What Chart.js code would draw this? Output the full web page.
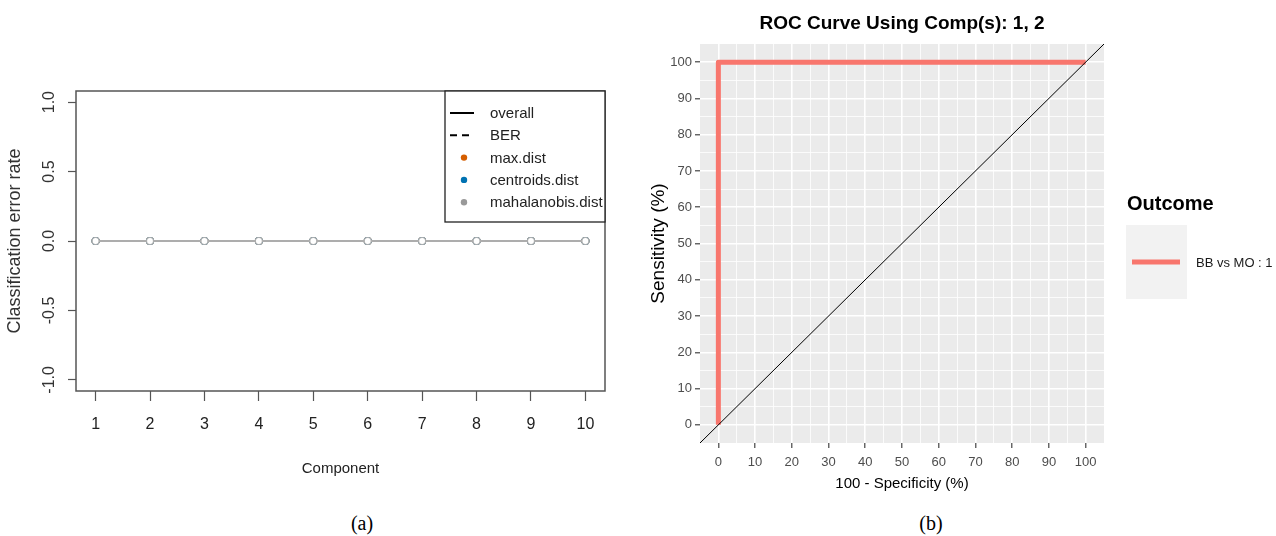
<!DOCTYPE html>
<html><head><meta charset="utf-8">
<script src="https://cdn.jsdelivr.net/npm/chart.js@4.4.1/dist/chart.umd.min.js"></script>
<style>
html,body{margin:0;padding:0;background:#fff;width:1276px;height:536px;overflow:hidden;position:relative;font-family:"Liberation Sans",Arial,sans-serif}
#c1{position:absolute;left:0;top:0}
#c2{position:absolute;left:640px;top:0}
.cap{position:absolute;top:512px;line-height:22px;font-family:"Liberation Serif","Times New Roman",serif;font-size:20px;color:#000;transform:translateX(-50%)}
</style></head><body>
<canvas id="c1" width="640" height="500"></canvas>
<canvas id="c2" width="636" height="500"></canvas>
<div class="cap" style="left:362px">(a)</div>
<div class="cap" style="left:931px">(b)</div>
<script>
// ---------- Panel (a): classification error rate ----------
const components = [1, 2, 3, 4, 5, 6, 7, 8, 9, 10];
const overallMaxDist = [0, 0, 0, 0, 0, 0, 0, 0, 0, 0];
const overallCentroidsDist = [0, 0, 0, 0, 0, 0, 0, 0, 0, 0];
const overallMahalanobisDist = [0, 0, 0, 0, 0, 0, 0, 0, 0, 0];
const berMaxDist = [0, 0, 0, 0, 0, 0, 0, 0, 0, 0];
const berCentroidsDist = [0, 0, 0, 0, 0, 0, 0, 0, 0, 0];
const berMahalanobisDist = [0, 0, 0, 0, 0, 0, 0, 0, 0, 0];
const errorTicks = [-1, -0.5, 0, 0.5, 1];
const errorRange = [-1.08, 1.08];
const componentRange = [0.64, 10.36];
const legendLines = ['overall', 'BER'];
const legendDists = ['max.dist', 'centroids.dist', 'mahalanobis.dist'];

// ---------- Panel (b): ROC curve ----------
const rocFpr = [0, 0, 100];
const rocSensitivity = [0, 100, 100];
const rocTicks = [0, 10, 20, 30, 40, 50, 60, 70, 80, 90, 100];
const rocMinorTicks = [5, 15, 25, 35, 45, 55, 65, 75, 85, 95];
const rocRange = [-5, 105];
const rocTitle = 'ROC Curve Using Comp(s): 1, 2';
const outcomeTitle = 'Outcome';
const outcomeLabel = 'BB vs MO : 1';

const FONT = '"Liberation Sans", Arial, sans-serif';
Chart.defaults.font.family = FONT;
Chart.defaults.animation = false;

const distColors = ['#D55E00', '#0072B2', '#999999'];
const lineGray = '#ADADAD';

function series(label, vals, color, dashed, order) {
  return {
    label,
    data: components.map((c, i) => ({ x: c, y: vals[i] })),
    borderColor: color,
    borderWidth: 2.2,
    borderDash: dashed ? [6, 4] : [],
    pointRadius: dashed ? 0 : 3.5,
    pointBorderColor: color,
    pointBackgroundColor: '#ffffff',
    pointBorderWidth: 1.2,
    tension: 0,
    order
  };
}

const panelAPlugin = {
  id: 'panelA',
  afterDraw(chart) {
    const ctx = chart.ctx;
    const a = chart.chartArea;
    ctx.save();
    // plot box
    ctx.strokeStyle = '#555';
    ctx.lineWidth = 1.5;
    ctx.strokeRect(a.left, a.top, a.right - a.left, a.bottom - a.top);
    // rotated y tick labels
    const ys = chart.scales.y;
    ctx.fillStyle = '#333';
    ctx.font = '16px ' + FONT;
    ctx.textAlign = 'center';
    ctx.textBaseline = 'middle';
    errorTicks.forEach(v => {
      const py = ys.getPixelForValue(v);
      ctx.save();
      ctx.translate(50, py);
      ctx.rotate(-Math.PI / 2);
      ctx.fillText(v.toFixed(1), 0, 0);
      ctx.restore();
    });
    // legend
    const lx = 445, ly = a.top, lw = a.right - lx, lh = 131;
    ctx.fillStyle = '#fff';
    ctx.fillRect(lx, ly, lw, lh);
    ctx.strokeStyle = '#222';
    ctx.lineWidth = 1.3;
    ctx.strokeRect(lx, ly, lw, lh);
    const rowY = i => ly + 22 + i * 22.3;
    ctx.font = '15px ' + FONT;
    ctx.textAlign = 'left';
    ctx.textBaseline = 'middle';
    legendLines.forEach((t, i) => {
      ctx.beginPath();
      ctx.setLineDash(i === 1 ? [7, 5] : []);
      ctx.strokeStyle = '#000';
      ctx.lineWidth = 2;
      ctx.moveTo(lx + 5, rowY(i));
      ctx.lineTo(lx + 29, rowY(i));
      ctx.stroke();
      ctx.setLineDash([]);
      ctx.fillStyle = '#222';
      ctx.fillText(t, lx + 45, rowY(i) + 1);
    });
    legendDists.forEach((t, j) => {
      const i = j + 2;
      ctx.beginPath();
      ctx.fillStyle = distColors[j];
      ctx.arc(lx + 19, rowY(i), 3.2, 0, Math.PI * 2);
      ctx.fill();
      ctx.fillStyle = '#222';
      ctx.fillText(t, lx + 45, rowY(i) + 1);
    });
    ctx.restore();
  }
};

new Chart(document.getElementById('c1'), {
  type: 'line',
  data: {
    datasets: [
      series('mahalanobis.dist overall', overallMahalanobisDist, lineGray, false, 0),
      series('mahalanobis.dist BER', berMahalanobisDist, lineGray, true, 1),
      series('centroids.dist overall', overallCentroidsDist, distColors[1], false, 2),
      series('centroids.dist BER', berCentroidsDist, distColors[1], true, 3),
      series('max.dist overall', overallMaxDist, distColors[0], false, 4),
      series('max.dist BER', berMaxDist, distColors[0], true, 5)
    ]
  },
  options: {
    responsive: false,
    devicePixelRatio: 1,
    layout: { padding: { left: 0, top: 91, right: 35, bottom: 0 } },
    plugins: { legend: { display: false }, tooltip: { enabled: false } },
    scales: {
      x: {
        type: 'linear',
        min: componentRange[0], max: componentRange[1],
        afterBuildTicks: s => { s.ticks = components.map(v => ({ value: v })); },
        afterFit: s => { s.height = 109; },
        ticks: { font: { size: 16 }, color: '#222', padding: 14, autoSkip: false, maxRotation: 0, callback: v => String(v) },
        grid: { display: true, drawOnChartArea: false, drawTicks: true, tickLength: 10, tickColor: '#555', tickWidth: 1.2 },
        border: { display: false },
        title: { display: true, text: 'Component', font: { size: 15 }, color: '#222', padding: { top: 0, bottom: 22 } }
      },
      y: {
        type: 'linear',
        min: errorRange[0], max: errorRange[1],
        afterBuildTicks: s => { s.ticks = errorTicks.map(v => ({ value: v })); },
        afterFit: s => { s.width = 76; },
        ticks: { display: false },
        grid: { display: true, drawOnChartArea: false, drawTicks: true, tickLength: 8, tickColor: '#555', tickWidth: 1.2 },
        border: { display: false },
        title: { display: true, text: 'Classification error rate', font: { size: 18 }, color: '#333', padding: { top: 4, bottom: 0 } }
      }
    }
  },
  plugins: [panelAPlugin]
});

// ---------- Panel (b) ----------
const isMajor = v => rocTicks.includes(v);

const panelBPlugin = {
  id: 'panelB',
  beforeDraw(chart) {
    const ctx = chart.ctx, a = chart.chartArea;
    ctx.save();
    ctx.fillStyle = '#EBEBEB';
    ctx.fillRect(a.left, a.top, a.right - a.left, a.bottom - a.top);
    ctx.restore();
  },
  afterDraw(chart) {
    const ctx = chart.ctx, a = chart.chartArea;
    ctx.save();
    // title centered over panel
    ctx.fillStyle = '#000';
    ctx.font = 'bold 19px ' + FONT;
    ctx.textAlign = 'center';
    ctx.textBaseline = 'middle';
    ctx.fillText(rocTitle, (a.left + a.right) / 2, 24);
    // legend
    const lx = a.right + 23;
    ctx.textAlign = 'left';
    ctx.font = 'bold 20px ' + FONT;
    ctx.fillText(outcomeTitle, lx, 204);
    ctx.fillStyle = '#F2F2F2';
    ctx.fillRect(lx - 1, 225, 61, 74);
    ctx.strokeStyle = '#F8766D';
    ctx.lineWidth = 5;
    ctx.lineCap = 'butt';
    ctx.beginPath();
    ctx.moveTo(lx + 5, 262);
    ctx.lineTo(lx + 53, 262);
    ctx.stroke();
    ctx.fillStyle = '#1A1A1A';
    ctx.font = '13px ' + FONT;
    ctx.textBaseline = 'middle';
    ctx.fillText(outcomeLabel, lx + 69, 263);
    ctx.restore();
  }
};

const rocGrid = {
  display: true,
  drawOnChartArea: true,
  drawTicks: true,
  tickLength: 5,
  color: '#FFFFFF',
  lineWidth: c => (c.tick && isMajor(c.tick.value)) ? 1.6 : 0.8,
  tickColor: c => (c.tick && isMajor(c.tick.value)) ? '#333333' : 'rgba(0,0,0,0)',
  tickWidth: 1.1
};
const allRocTicks = rocTicks.concat(rocMinorTicks).sort((p, q) => p - q);

new Chart(document.getElementById('c2'), {
  type: 'line',
  data: {
    datasets: [
      {
        label: 'chance',
        data: rocRange.map(v => ({ x: v, y: v })),
        borderColor: '#000000',
        borderWidth: 1,
        pointRadius: 0,
        order: 0
      },
      {
        label: outcomeLabel,
        data: rocFpr.map((x, i) => ({ x, y: rocSensitivity[i] })),
        borderColor: '#F8766D',
        borderWidth: 5,
        borderJoinStyle: 'round',
        borderCapStyle: 'butt',
        pointRadius: 0,
        tension: 0,
        order: 1
      }
    ]
  },
  options: {
    responsive: false,
    devicePixelRatio: 1,
    layout: { padding: { left: 0, top: 44, right: 172, bottom: 0 } },
    plugins: { legend: { display: false }, tooltip: { enabled: false } },
    scales: {
      x: {
        type: 'linear',
        min: rocRange[0], max: rocRange[1],
        afterBuildTicks: s => { s.ticks = allRocTicks.map(v => ({ value: v })); },
        afterFit: s => { s.height = 57; },
        ticks: { font: { size: 13 }, color: '#4D4D4D', padding: 7, autoSkip: false, maxRotation: 0, callback: v => isMajor(v) ? String(v) : '' },
        grid: rocGrid,
        border: { display: false },
        title: { display: true, text: '100 - Specificity (%)', font: { size: 15 }, color: '#000', padding: { top: 0, bottom: 7 } }
      },
      y: {
        type: 'linear',
        min: rocRange[0], max: rocRange[1],
        afterBuildTicks: s => { s.ticks = allRocTicks.map(v => ({ value: v })); },
        afterFit: s => { s.width = 60; },
        ticks: { font: { size: 13 }, color: '#4D4D4D', padding: 3, autoSkip: false, callback: v => isMajor(v) ? String(v) : '' },
        grid: rocGrid,
        border: { display: false },
        title: { display: true, text: 'Sensitivity (%)', font: { size: 19 }, color: '#000', padding: { top: 7, bottom: 0 } }
      }
    }
  },
  plugins: [panelBPlugin]
});
</script>
</body></html>
